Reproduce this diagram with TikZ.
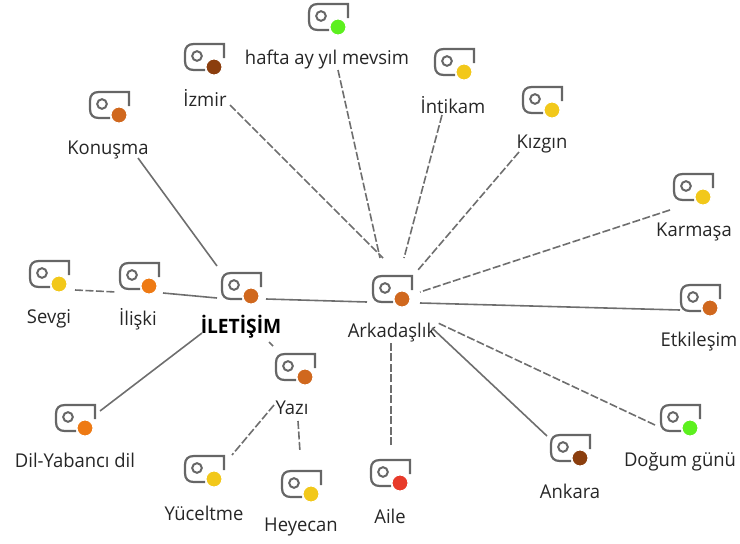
\documentclass[tikz,border=0pt]{standalone}
\usepackage{fontspec}
\setmainfont{Open Sans}[FakeStretch=0.97]
\definecolor{framegray}{HTML}{666666}
\definecolor{cgreen}{HTML}{5CF01E}
\definecolor{cyellow}{HTML}{F2C81A}
\definecolor{cochre}{HTML}{D0681E}
\definecolor{corange}{HTML}{EE7A14}
\definecolor{cbrown}{HTML}{8B3E0E}
\definecolor{cred}{HTML}{E83A2A}
\definecolor{linegray}{HTML}{6E6E6E}
\tikzset{
  dotnode/.style={circle,minimum size=16pt,inner sep=0pt,draw=white,line width=1pt},
  lbl/.style={font=\fontsize{19}{20}\selectfont,text=black!85,inner sep=0pt},
  lblbold/.style={font=\fontsize{19.8}{20}\selectfont\bfseries,text=black,inner sep=0pt},
  solidlink/.style={draw=linegray,line width=1.6pt},
  dashlink/.style={draw=linegray,line width=1.6pt,dash pattern=on 8pt off 2.5pt}
}
\newcommand{\icon}[3]{%
  \draw[framegray,line width=2.2pt,shift={(#2)}]
    (-9,3) -- (-20,3) .. controls (-26,3) and (-29,0) .. (-29,-6) -- (-29,-14)
    .. controls (-29,-20) and (-26,-23) .. (-20,-23) -- (10,-23) -- (10,-9);
  \draw[framegray,line width=2pt,shift={(#2)}] (-17,-11) circle[radius=4.8];
  \node[dotnode,fill=#3] (#1) at (#2) {};
}
\newcommand{\lnk}[5]{\draw[#1] ([shift={(#3)}]#2.center) -- ([shift={(#5)}]#4.center);}
\begin{document}
\begin{tikzpicture}[x=1pt,y=-1pt]
\useasboundingbox (0,0) rectangle (740,544);
\icon{hafta}{338,27}{cgreen}
\icon{izmir}{214,67}{cbrown}
\icon{intikam}{464,72}{cyellow}
\icon{kizgin}{552,110}{cyellow}
\icon{konusma}{119,115}{cochre}
\icon{karmasa}{703,197}{cyellow}
\icon{etkilesim}{710,308}{cochre}
\icon{sevgi}{59,284}{cyellow}
\icon{iliski}{149,286}{corange}
\icon{iletisim}{251,296}{cochre}
\icon{arkadaslik}{402,299}{cochre}
\icon{yazi}{305,377}{cochre}
\icon{dil}{85,428}{corange}
\icon{yuceltme}{214,479}{cyellow}
\icon{heyecan}{311,494}{cyellow}
\icon{aile}{400,483}{cred}
\icon{ankara}{580,458}{cbrown}
\icon{dogum}{690,428}{cgreen}
\node[lbl] (Lhafta) at (327,60) {hafta ay yıl mevsim};
\node[lbl] (Lizmir) at (205,98) {İzmir};
\node[lbl] (Lintikam) at (453,105) {İntikam};
\node[lbl] (Lkizgin) at (542,144) {Kızgın};
\node[lbl] (Lkonusma) at (108,150) {Konuşma};
\node[lbl] (Lkarmasa) at (694,232) {Karmaşa};
\node[lbl] (Letkilesim) at (699,342) {Etkileşim};
\node[lbl] (Lsevgi) at (49,319) {Sevgi};
\node[lbl] (Liliski) at (138,319) {İlişki};
\node[lblbold] (Liletisim) at (241,327) {İLETİŞİM};
\node[lbl] (Larkadaslik) at (392,333) {Arkadaşlık};
\node[lbl] (Lyazi) at (292,408) {Yazı};
\node[lbl] (Ldil) at (75,460) {Dil-Yabancı dil};
\node[lbl] (Lyuceltme) at (204,513) {Yüceltme};
\node[lbl] (Lheyecan) at (301,527) {Heyecan};
\node[lbl] (Laile) at (390,516) {Aile};
\node[lbl] (Lankara) at (570,491) {Ankara};
\node[lbl] (Ldogum) at (680,462) {Doğum günü};
\lnk{dashlink}{Lizmir}{25,7}{arkadaslik}{-19,-41}
\lnk{dashlink}{Lhafta}{11,10}{arkadaslik}{-22,-41}
\lnk{dashlink}{Lintikam}{-11,10}{arkadaslik}{2,-41}
\lnk{dashlink}{Lkizgin}{-23,8}{arkadaslik}{16,-29}
\lnk{dashlink}{karmasa}{-33,13}{arkadaslik}{18,-7}
\lnk{solidlink}{etkilesim}{-30,2}{arkadaslik}{18,4}
\lnk{dashlink}{dogum}{-35,-3}{arkadaslik}{36,24}
\lnk{solidlink}{ankara}{-33,-22}{arkadaslik}{30,29}
\lnk{dashlink}{aile}{-9,-38}{Larkadaslik}{-1,10}
\lnk{solidlink}{Lkonusma}{30,8}{iletisim}{-34,-30}
\lnk{dashlink}{sevgi}{16,6}{iliski}{-33,6}
\lnk{solidlink}{iliski}{14,7}{iletisim}{-34,2}
\lnk{solidlink}{iletisim}{15,3}{arkadaslik}{-35,3}
\lnk{dashlink}{Liletisim}{28,15}{yazi}{-32,-31}
\lnk{solidlink}{Liletisim}{-39,6}{dil}{15,-17}
\lnk{dashlink}{Lyazi}{-18,-3}{yuceltme}{18,-24}
\lnk{dashlink}{Lyazi}{6,13}{heyecan}{-11,-42}
\end{tikzpicture}
\end{document}
